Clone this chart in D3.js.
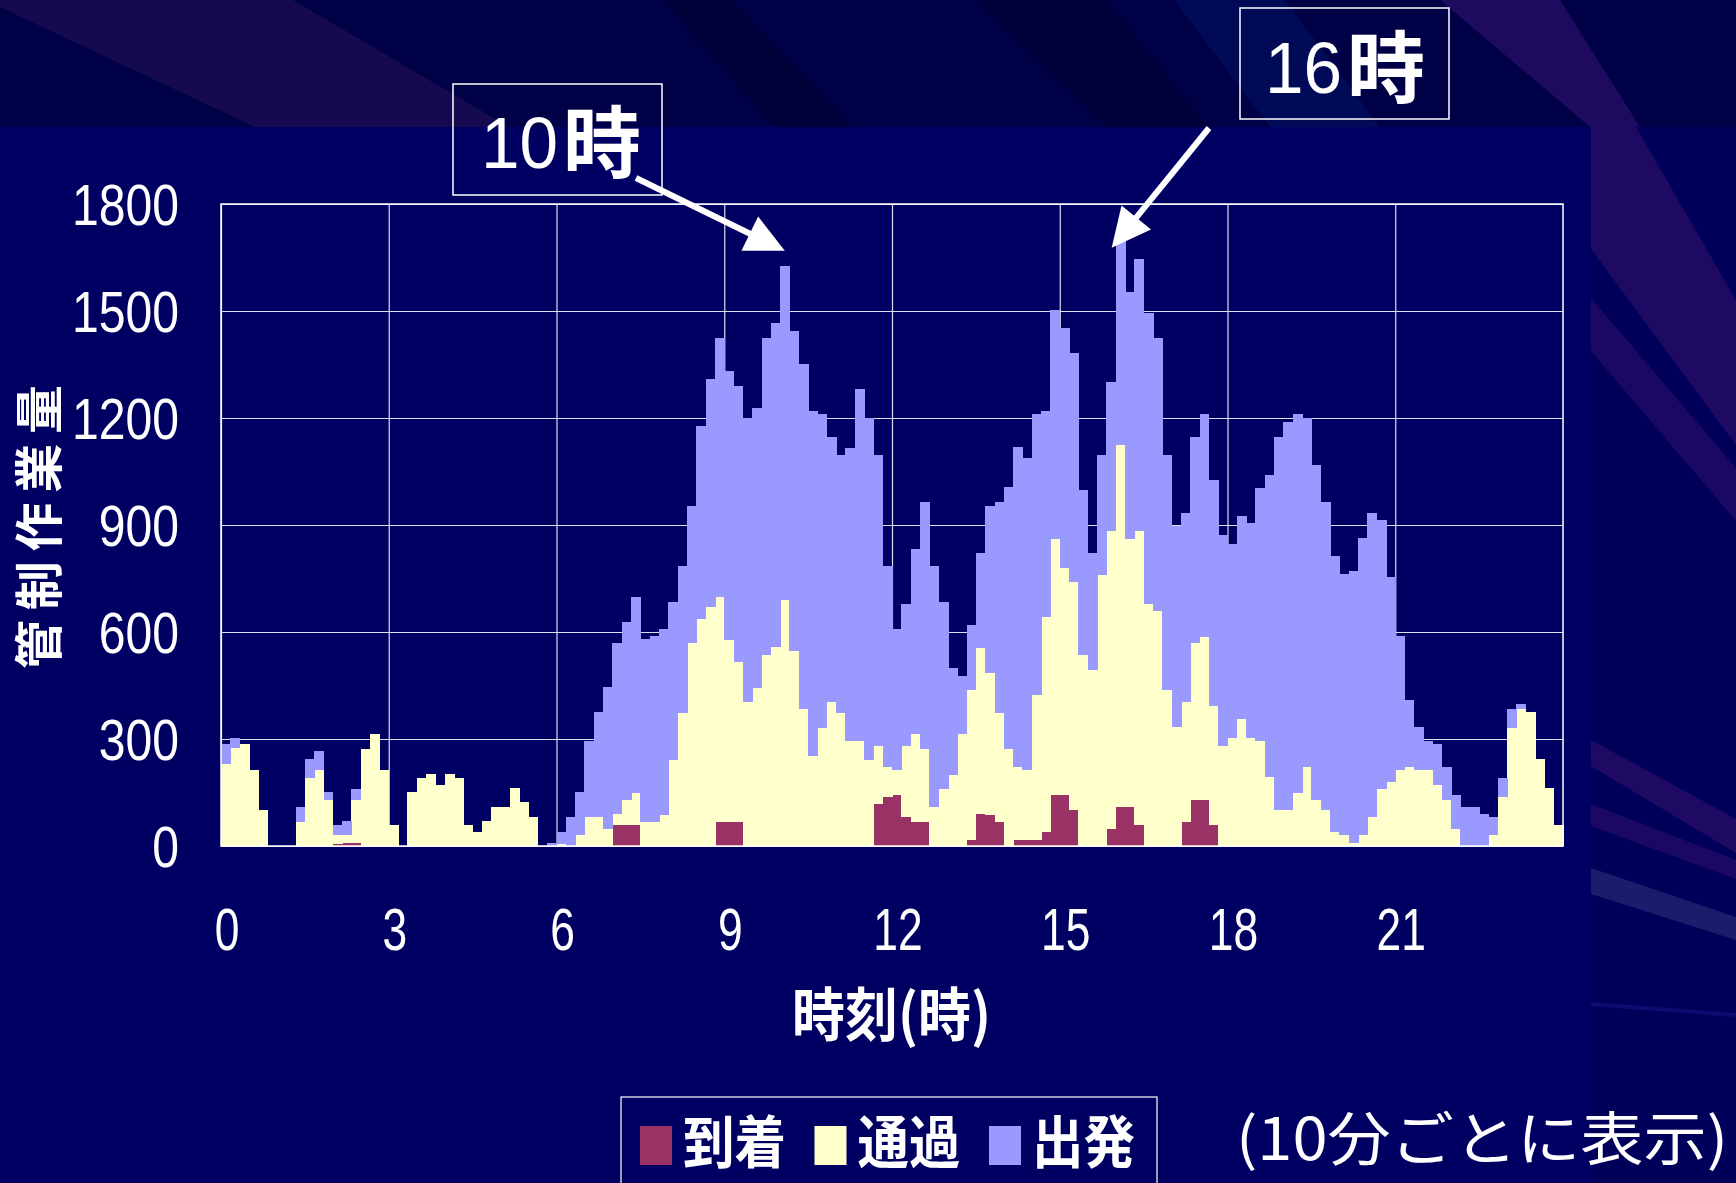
<!DOCTYPE html>
<html><head><meta charset="utf-8">
<script src="https://cdn.jsdelivr.net/npm/d3@7"></script>
<style>html,body{margin:0;padding:0;background:#00005a;overflow:hidden}</style>
</head><body>
<svg id="c" width="1736" height="1183"></svg>
<script>
// ---- data (10-minute intervals, 144 bars) ----
const arrival = [0,0,0,0,0,0,0,0,0,0,0,0,6,8,9,0,0,0,0,0,0,0,0,0,
  0,0,0,0,0,0,0,0,0,0,0,0,0,0,0,0,0,0,60,60,60,0,0,0,
  0,0,0,0,0,68,68,68,0,0,0,0,0,0,0,0,0,0,0,0,0,0,119,137,
  142,80,68,68,0,0,0,0,18,91,88,68,0,18,18,18,40,142,142,100,0,0,0,49,
  110,110,60,0,0,0,0,68,130,130,60,0,0,0,0,0,0,0,0,0,0,0,0,0,
  0,0,0,0,0,0,0,0,0,0,0,0,0,0,0,0,0,0,0,0,0,0,0,0];
const passing = [231,274,285,214,102,0,0,0,68,192,212,130,24,22,121,273,315,214,60,0,152,192,203,172,
  203,192,60,40,71,110,110,164,122,80,0,0,5,0,30,80,80,49,31,70,90,68,68,87,
  242,374,568,637,669,631,510,448,405,444,536,559,691,548,385,253,331,405,374,294,294,242,162,85,
  70,201,245,205,110,160,200,315,418,465,398,306,273,204,194,406,601,720,638,641,536,494,761,835,
  1015,752,823,679,660,436,335,337,438,457,333,281,304,355,304,294,193,100,100,150,222,130,100,40,
  30,8,30,80,160,180,212,222,212,212,170,130,49,0,0,0,30,138,331,385,377,245,164,60];
const departure = [54,30,0,0,0,0,0,0,42,53,53,22,30,41,30,0,0,0,0,0,0,0,0,0,
  0,0,0,0,0,0,0,0,0,0,0,9,35,80,122,214,297,398,479,499,549,512,522,522,
  442,411,386,541,641,724,755,774,795,784,887,906,936,897,967,967,879,743,723,823,988,958,816,563,
  397,398,521,692,675,524,298,163,185,266,468,591,734,897,877,786,579,642,673,642,461,328,336,418,
  572,692,763,816,765,661,561,528,580,623,634,591,543,571,602,711,846,1048,1090,1060,978,937,865,774,
  733,764,834,853,755,573,378,186,123,82,115,92,93,110,110,91,52,54,54,12,0,0,0,0];
const seriesNames = ["到着", "通過", "出発"];
const seriesColors = ["#993366", "#FFFFCC", "#9999FF"];
const yTicks = [0, 300, 600, 900, 1200, 1500, 1800];
const xTicks = [0, 3, 6, 9, 12, 15, 18, 21];
const peakLabels = [{num: "10", bar: 60}, {num: "16", bar: 96}];
const yTitle = "管制作業量";
const xTitle = "時刻(時)";
const note = "(10分ごとに表示)";

// ---- setup ----
const W = 1736, H = 1183;
const LAT = "'Liberation Sans', Arial, sans-serif";
const CJK = "'Noto Sans CJK JP', 'Noto Sans CJK SC', sans-serif";
const svg = d3.select("#c");

// background
svg.append("rect").attr("width", W).attr("height", H).attr("fill", "#00005a");
svg.append("rect").attr("width", W).attr("height", 127).attr("fill", "#000046");
const deco = [
  {p: [[0,0],[293,0],[509,127],[255,127],[0,7]], c: "#150a50"},
  {p: [[664,0],[731,0],[853,127],[775,127]], c: "#000038"},
  {p: [[975,0],[1107,0],[1207,127],[1107,127]], c: "#00003a"},
  {p: [[1174,0],[1285,0],[1380,127],[1270,127]], c: "#000a56"},
  {p: [[1440,0],[1560,0],[1640,127],[1590,127]], c: "#1e0a5e"},
  {p: [[1591,127],[1636,127],[1736,300],[1736,445],[1591,249]], c: "#1e0a62"},
  {p: [[1591,298],[1736,468],[1736,521],[1591,351]], c: "#1a0862"},
  {p: [[1591,740],[1736,819],[1736,853],[1591,766]], c: "#1e0a62"},
  {p: [[1591,804],[1736,860],[1736,879],[1591,826]], c: "#1a0862"},
  {p: [[1591,868],[1736,917],[1736,940],[1591,894]], c: "#1c1c6c"},
  {p: [[1591,1002],[1736,1013],[1736,1017],[1591,1006]], c: "#0c0c72"}
];
svg.append("g").selectAll("polygon").data(deco).join("polygon")
  .attr("points", d => d.p.map(q => q.join(",")).join(" ")).attr("fill", d => d.c);
svg.append("rect").attr("x", 0).attr("y", 127).attr("width", 1591).attr("height", H - 127).attr("fill", "#000062");

// scales
const M = {l: 221, r: 1563, t: 204, b: 846};
const n = arrival.length;
const x = d3.scaleBand().domain(d3.range(n)).range([M.l, M.r]).padding(0);
const xh = d3.scaleLinear().domain([0, 24]).range([M.l, M.r]);
const y = d3.scaleLinear().domain([0, 1800]).range([M.b, M.t]);

// grid
svg.append("g").attr("transform", `translate(${M.l},0)`)
  .call(d3.axisLeft(y).tickValues(yTicks).tickSize(-(M.r - M.l)).tickFormat(""))
  .call(g => g.select(".domain").remove())
  .selectAll("line").attr("stroke", "#dcdcec").attr("stroke-width", 1.2);
svg.append("g").attr("transform", `translate(0,${M.b})`)
  .call(d3.axisBottom(xh).tickValues(xTicks).tickSize(-(M.b - M.t)).tickFormat(""))
  .call(g => g.select(".domain").remove())
  .selectAll("line").attr("stroke", "#dcdcec").attr("stroke-width", 1.2);

// bars
const rows = arrival.map((a, i) => ({i, arr: a, pass: passing[i], dep: departure[i]}));
const stacked = d3.stack().keys(["arr", "pass", "dep"])(rows);
svg.append("g").attr("shape-rendering", "crispEdges")
  .selectAll("g").data(stacked).join("g").attr("fill", (d, k) => seriesColors[k])
  .selectAll("rect").data(d => d.filter(s => s[1] > s[0])).join("rect")
  .attr("x", d => x(d.data.i)).attr("width", x.bandwidth() + 0.6)
  .attr("y", d => y(d[1])).attr("height", d => y(d[0]) - y(d[1]));

// plot border
svg.append("rect").attr("x", M.l).attr("y", M.t).attr("width", M.r - M.l).attr("height", M.b - M.t)
  .attr("fill", "none").attr("stroke", "#ffffff").attr("stroke-width", 1.5);

// helper for scaled text
function stxt(xp, yp, sx, str, opts) {
  const g = svg.append("g").attr("transform", `translate(${xp},${yp}) scale(${sx},1)`);
  return g.append("text").text(str).attr("fill", "#fff")
    .attr("font-family", opts.ff).attr("font-size", opts.fs)
    .attr("font-weight", opts.fw || 400).attr("text-anchor", opts.anchor || "start");
}

// y tick labels
yTicks.forEach(v => stxt(179, y(v) + 21, 0.83, String(v), {ff: LAT, fs: 58, anchor: "end"}));
// x tick labels
xTicks.forEach(v => stxt(xh(v) + 6, 950, 0.74, String(v), {ff: LAT, fs: 60, anchor: "middle"}));

// axis titles
svg.append("text").text(xTitle).attr("x", 792).attr("y", 1036)
  .attr("font-family", CJK).attr("font-weight", 700).attr("font-size", 58).attr("fill", "#fff")
  .attr("textLength", 199).attr("lengthAdjust", "spacingAndGlyphs");
svg.append("text").text(yTitle)
  .attr("transform", "translate(35,527) rotate(-90)")
  .attr("text-anchor", "middle").attr("dominant-baseline", "central")
  .attr("font-family", CJK).attr("font-weight", 700).attr("font-size", 49).attr("fill", "#fff")
  .attr("textLength", 284).attr("lengthAdjust", "spacing");

// peak annotation boxes + arrows
const boxes = [
  {bx: 453, by: 84, tx: 481, ty: 168, kx: 563, ky: 172, tail: [636, 178]},
  {bx: 1240, by: 8, tx: 1265, ty: 93, kx: 1347, ky: 97, tail: [1209, 128]}
];
peakLabels.forEach((p, k) => {
  const b = boxes[k];
  svg.append("rect").attr("x", b.bx).attr("y", b.by).attr("width", 209).attr("height", 111)
    .attr("fill", "none").attr("stroke", "#fff").attr("stroke-width", 1.5);
  stxt(b.tx, b.ty, 0.95, p.num, {ff: LAT, fs: 73});
  svg.append("text").text("時").attr("x", b.kx).attr("y", b.ky)
    .attr("font-family", CJK).attr("font-weight", 700).attr("font-size", 78).attr("fill", "#fff");
  const tip = k === 0 ? [x(p.bar) + x.bandwidth() / 2, y(1627) - 15]
                      : [x(p.bar) - 4, y(1697) + 7];
  const dx = tip[0] - b.tail[0], dy = tip[1] - b.tail[1], L = Math.hypot(dx, dy);
  const ux = dx / L, uy = dy / L, len = 39, hw = 19;
  const base = [tip[0] - ux * len, tip[1] - uy * len];
  svg.append("line").attr("x1", b.tail[0]).attr("y1", b.tail[1]).attr("x2", base[0] + ux * 2).attr("y2", base[1] + uy * 2)
    .attr("stroke", "#fff").attr("stroke-width", 6);
  svg.append("polygon").attr("fill", "#fff").attr("points", [
    tip, [base[0] - uy * hw, base[1] + ux * hw], [base[0] + uy * hw, base[1] - ux * hw]
  ].map(q => q.join(",")).join(" "));
});

// legend
svg.append("rect").attr("x", 621).attr("y", 1097).attr("width", 536).attr("height", 120)
  .attr("fill", "#000062").attr("stroke", "#fff").attr("stroke-width", 1.2);
const lg = svg.append("g").selectAll("g").data(seriesNames).join("g")
  .attr("transform", (d, k) => `translate(${640 + k * 174.5},1126)`);
lg.append("rect").attr("width", 32).attr("height", 39).attr("fill", (d, k) => seriesColors[k]);
lg.append("text").text(d => d).attr("x", 43).attr("y", 37)
  .attr("font-family", CJK).attr("font-weight", 700).attr("font-size", 57).attr("fill", "#fff")
  .attr("textLength", 103).attr("lengthAdjust", "spacingAndGlyphs");

// note
svg.append("text").text(note).attr("x", 1236).attr("y", 1160)
  .attr("font-family", CJK).attr("font-size", 58).attr("fill", "#fff")
  .attr("textLength", 492).attr("lengthAdjust", "spacingAndGlyphs");
</script>
</body></html>
